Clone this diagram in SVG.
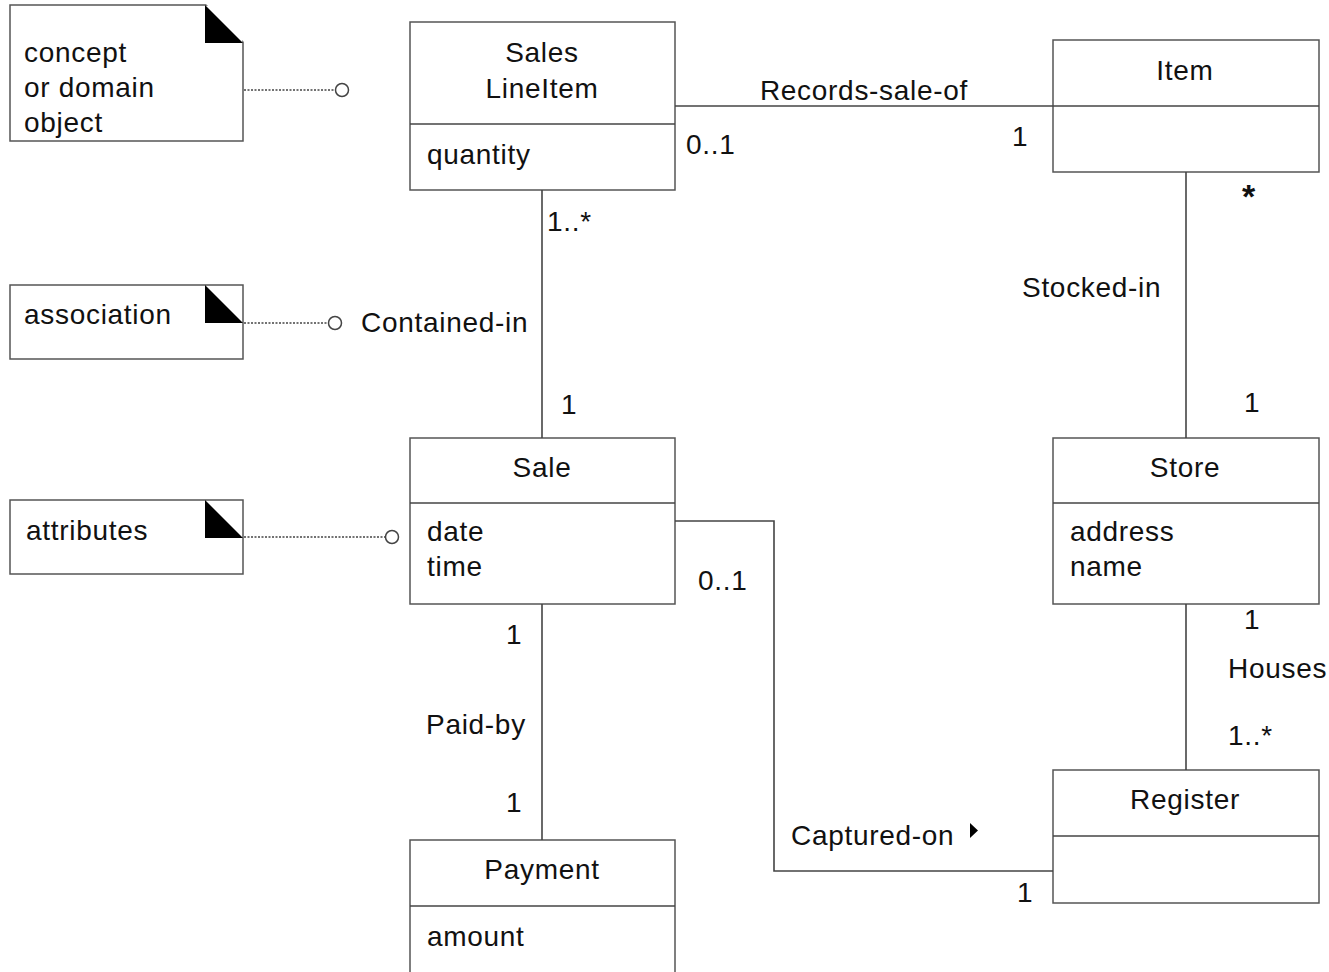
<svg xmlns="http://www.w3.org/2000/svg" width="1329" height="972" viewBox="0 0 1329 972">
<style>
text{font-family:"Liberation Sans",Arial,sans-serif;font-size:28px;letter-spacing:0.7px;fill:#111}
.c{text-anchor:middle}
.box{fill:#fff;stroke:#555;stroke-width:1.5}
.ln{fill:none;stroke:#444;stroke-width:1.6}
.dot{fill:none;stroke:#444;stroke-width:1.6;stroke-dasharray:2,1.5}
.circ{fill:#fff;stroke:#444;stroke-width:1.5}
</style>
<rect width="1329" height="972" fill="#fff"/>
<g id="note-concept">
<rect class="box" x="10" y="5" width="233" height="136"/>
<polygon points="205,5 243,43 205,43" fill="#000"/>
<polygon points="206,4 244,4 244,42" fill="#fff"/>
<text x="24" y="62">concept</text>
<text x="24" y="97">or domain</text>
<text x="24" y="132">object</text>
</g>
<g id="note-association">
<rect class="box" x="10" y="285" width="233" height="74"/>
<polygon points="205,285 243,323 205,323" fill="#000"/>
<text x="24" y="324">association</text>
</g>
<g id="note-attributes">
<rect class="box" x="10" y="500" width="233" height="74"/>
<polygon points="205,500 243,538 205,538" fill="#000"/>
<text x="26" y="540">attributes</text>
</g>
<g id="SalesLineItem">
<rect class="box" x="410" y="22" width="265" height="168"/>
<line class="ln" x1="410" y1="124" x2="675" y2="124"/>
<text class="c" x="542" y="62">Sales</text>
<text class="c" x="542" y="98">LineItem</text>
<text x="427" y="164">quantity</text>
</g>
<g id="Item">
<rect class="box" x="1053" y="40" width="266" height="132"/>
<line class="ln" x1="1053" y1="106" x2="1319" y2="106"/>
<text class="c" x="1185" y="80">Item</text>
</g>
<g id="Sale">
<rect class="box" x="410" y="438" width="265" height="166"/>
<line class="ln" x1="410" y1="503" x2="675" y2="503"/>
<text class="c" x="542" y="477">Sale</text>
<text x="427" y="541">date</text>
<text x="427" y="576">time</text>
</g>
<g id="Store">
<rect class="box" x="1053" y="438" width="266" height="166"/>
<line class="ln" x1="1053" y1="503" x2="1319" y2="503"/>
<text class="c" x="1185" y="477">Store</text>
<text x="1070" y="541">address</text>
<text x="1070" y="576">name</text>
</g>
<g id="Payment">
<rect class="box" x="410" y="840" width="265" height="140"/>
<line class="ln" x1="410" y1="906" x2="675" y2="906"/>
<text class="c" x="542" y="879">Payment</text>
<text x="427" y="946">amount</text>
</g>
<g id="Register">
<rect class="box" x="1053" y="770" width="266" height="133"/>
<line class="ln" x1="1053" y1="836" x2="1319" y2="836"/>
<text class="c" x="1185" y="809">Register</text>
</g>
<g id="connectors">
<line class="dot" x1="244" y1="90" x2="336" y2="90"/>
<circle class="circ" cx="342" cy="90" r="6.5"/>
<line class="dot" x1="244" y1="323" x2="329" y2="323"/>
<circle class="circ" cx="335" cy="323" r="6.5"/>
<line class="dot" x1="244" y1="537" x2="386" y2="537"/>
<circle class="circ" cx="392" cy="537" r="6.5"/>
<line class="ln" x1="675" y1="106" x2="1053" y2="106"/>
<line class="ln" x1="542" y1="190" x2="542" y2="438"/>
<line class="ln" x1="1186" y1="172" x2="1186" y2="438"/>
<line class="ln" x1="1186" y1="604" x2="1186" y2="770"/>
<line class="ln" x1="542" y1="604" x2="542" y2="840"/>
<polyline class="ln" points="675,521 774,521 774,871 1053,871"/>
<polygon points="970,823 978,830.5 970,838" fill="#000"/>
</g>
<g id="labels">
<text class="c" x="864" y="100">Records-sale-of</text>
<text x="686" y="154">0..1</text>
<text x="1012" y="146">1</text>
<text x="547" y="231">1..*</text>
<text x="361" y="332">Contained-in</text>
<text x="561" y="414">1</text>
<text x="1242" y="208" style="font-size:34px;font-weight:bold">*</text>
<text x="1022" y="297">Stocked-in</text>
<text x="1244" y="412">1</text>
<text x="1244" y="629">1</text>
<text x="1228" y="678">Houses</text>
<text x="1228" y="745">1..*</text>
<text x="698" y="590">0..1</text>
<text x="506" y="644">1</text>
<text x="426" y="734">Paid-by</text>
<text x="506" y="812">1</text>
<text x="791" y="845">Captured-on</text>
<text x="1017" y="902">1</text>
</g>
</svg>
